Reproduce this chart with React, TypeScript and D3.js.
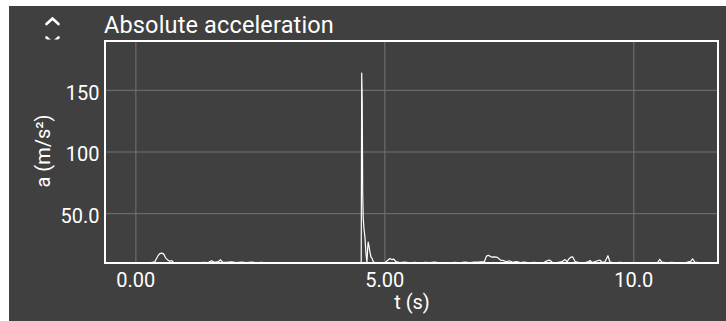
import React from "react";
import * as d3 from "d3";

// time (s) and absolute acceleration (m/s²)
const time = [
  0.0, 0.1, 0.2, 0.3, 0.38, 0.44, 0.48, 0.52, 0.56, 0.6, 0.64, 0.68, 0.72, 0.76, 0.85, 0.95,
  1.05, 1.15, 1.25, 1.35, 1.45, 1.52, 1.58, 1.66, 1.7, 1.74, 1.82, 1.92, 2.02, 2.12, 2.22,
  2.32, 2.42, 2.52, 2.62, 2.72, 2.82, 2.92, 3.02, 3.12, 3.22, 3.32, 3.42, 3.52, 3.62, 3.72,
  3.82, 3.92, 4.02, 4.12, 4.22, 4.32, 4.42, 4.5, 4.525, 4.535, 4.545, 4.555, 4.565, 4.58,
  4.6, 4.62, 4.64, 4.655, 4.665, 4.68, 4.7, 4.72, 4.74, 4.77, 4.8, 4.9, 5.0, 5.06, 5.1,
  5.14, 5.18, 5.22, 5.3, 5.4, 5.5, 5.6, 5.7, 5.8, 5.9, 6.0, 6.1, 6.2, 6.3, 6.4, 6.5, 6.6,
  6.7, 6.8, 6.9, 7.0, 7.04, 7.08, 7.14, 7.2, 7.26, 7.32, 7.38, 7.44, 7.5, 7.56, 7.64, 7.72,
  7.8, 7.9, 8.0, 8.1, 8.2, 8.27, 8.31, 8.36, 8.46, 8.56, 8.62, 8.66, 8.7, 8.74, 8.77, 8.82,
  8.9, 9.0, 9.08, 9.12, 9.16, 9.24, 9.32, 9.36, 9.42, 9.48, 9.52, 9.62, 9.72, 9.82, 9.92,
  10.02, 10.12, 10.22, 10.32, 10.42, 10.48, 10.52, 10.56, 10.66, 10.76, 10.86, 10.96, 11.06,
  11.14, 11.18, 11.22, 11.3, 11.4, 11.5, 11.6, 11.66,
];
const accel = [
  9.9, 10.1, 9.8, 10.3, 11.0, 15.5, 17.6, 18.0, 17.2, 14.0, 12.5, 11.4, 12.0, 10.2, 9.9, 10.2,
  9.8, 10.4, 10.0, 10.6, 10.3, 11.8, 10.5, 11.2, 12.6, 10.8, 10.5, 10.9, 10.4, 10.8, 10.3,
  10.7, 10.2, 10.6, 10.1, 10.4, 9.9, 10.2, 9.8, 10.1, 9.9, 10.3, 9.8, 10.2, 10.0, 10.3,
  9.9, 10.1, 9.8, 10.2, 9.9, 10.1, 9.9, 10.2, 10.0, 164, 143, 67, 47, 38,
  31, 18, 10.5, 22, 27, 24, 19, 15, 14, 11, 10.2, 9.9, 10.3, 12.2, 13.6,
  12.8, 13.2, 11.2, 10.4, 10.8, 10.2, 10.6, 10.0, 10.5, 10.3, 10.7, 10.1, 10.4, 10.0, 10.6, 10.2, 10.8,
  10.3, 10.7, 10.9, 11.2, 15.6, 16.2, 14.8, 15.0, 14.6, 12.4, 12.0, 11.0, 11.8, 10.6, 11.2, 10.4,
  10.8, 10.2, 10.6, 10.1, 10.5, 12.0, 12.3, 10.6, 10.4, 11.2, 12.8, 11.0, 13.5, 14.8, 15.0, 11.2,
  10.4, 10.2, 10.9, 12.0, 10.4, 11.4, 12.4, 10.6, 11.0, 15.9, 10.8, 10.2, 10.6, 10.1, 10.4,
  10.0, 10.3, 9.9, 10.2, 9.8, 10.6, 13.0, 10.8, 10.2, 10.5, 10.1, 10.4, 10.6,
  11.4, 13.4, 10.8, 10.3, 10.0, 10.4, 10.1, 10.0,
];
const xTicks = [0, 5, 10];
const xTickLabels = ["0.00", "5.00", "10.0"];
const yTicks = [50, 100, 150];
const yTickLabels = ["50.0", "100", "150"];

const W = 726;
const H = 321;
const plot = { left: 105, right: 718, top: 41, bottom: 263 };
const bg = "#404040";
const grid = "#737373";
const font = "Roboto, 'Noto Sans', sans-serif";

export default function App() {
  const x = d3.scaleLinear().domain([-0.62, 11.69]).range([plot.left, plot.right]);
  const y = d3.scaleLinear().domain([10, 190]).range([plot.bottom, plot.top]);

  const points = time.map((t, i) => [t, accel[i]] as [number, number]);
  const line = d3
    .line<[number, number]>()
    .x(d => x(d[0]))
    .y(d => y(d[1]));

  return (
    <svg
      width={W}
      height={H}
      style={{ position: "absolute", left: 0, top: 0 }}
      fontFamily={font}
    >
      <rect x={0} y={0} width={W} height={H} fill="#fff" />
      <rect x={9} y={6} width={W - 9} height={H - 6} fill={bg} />

      <defs>
        <clipPath id="plotClip">
          <rect x={plot.left} y={plot.top} width={plot.right - plot.left} height={plot.bottom - plot.top} />
        </clipPath>
        <clipPath id="iconClip">
          <rect x={30} y={10} width={40} height={29.5} />
        </clipPath>
      </defs>

      {/* collapse icon */}
      <g clipPath="url(#iconClip)" stroke="#fff" strokeWidth={2.6} fill="none" strokeLinecap="round">
        <path d="M46.5,24 L52.5,18.5 L58.5,24" />
        <path d="M46.5,37.5 L52.5,43 L58.5,37.5" />
      </g>

      <text x={104} y={32.5} fill="#fff" fontSize={23.5} letterSpacing={0.15}>
        Absolute acceleration
      </text>

      {/* grid */}
      <g stroke={grid} strokeWidth={1}>
        {xTicks.map(t => (
          <line key={"gx" + t} x1={x(t)} x2={x(t)} y1={plot.top} y2={plot.bottom} />
        ))}
        {yTicks.map(t => (
          <line key={"gy" + t} x1={plot.left} x2={plot.right} y1={y(t)} y2={y(t)} />
        ))}
      </g>

      <path
        d={line(points) ?? ""}
        fill="none"
        stroke="#fff"
        strokeWidth={1.2}
        strokeLinejoin="round"
        clipPath="url(#plotClip)"
      />

      {/* frame */}
      <rect
        x={plot.left}
        y={plot.top}
        width={plot.right - plot.left}
        height={plot.bottom - plot.top}
        fill="none"
        stroke="#fff"
        strokeWidth={2}
      />

      {xTicks.map((t, i) => (
        <text key={"xl" + t} x={x(t)} y={286.7} fill="#fff" fontSize={20} textAnchor="middle">
          {xTickLabels[i]}
        </text>
      ))}
      {yTicks.map((t, i) => (
        <text key={"yl" + t} x={99.5} y={y(t) + 9.3} fill="#fff" fontSize={20} textAnchor="end">
          {yTickLabels[i]}
        </text>
      ))}

      <text x={412} y={309} fill="#fff" fontSize={20} textAnchor="middle">
        t (s)
      </text>
      <text
        transform="translate(50,151) rotate(-90)"
        fill="#fff"
        fontSize={20}
        textAnchor="middle"
      >
        a (m/s²)
      </text>
    </svg>
  );
}
